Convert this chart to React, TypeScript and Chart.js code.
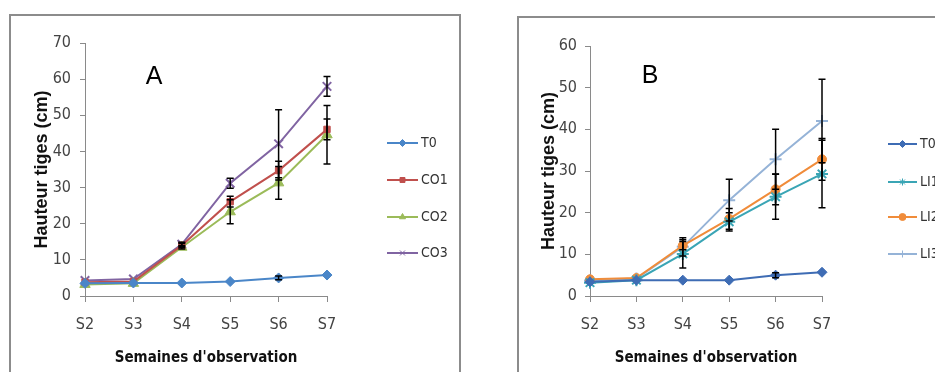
import React, { useEffect, useRef } from 'react';
import { Chart, registerables } from 'chart.js';
import { drawPoint } from 'chart.js/helpers';

Chart.register(...registerables);

const weeks = ['S2', 'S3', 'S4', 'S5', 'S6', 'S7'];

// Panel A values (cm)
const aT0 = [3.5, 3.6, 3.6, 4.0, 5.0, 5.8];
const aCO1 = [3.8, 4.0, 14.0, 26.1, 34.7, 46.1];
const aCO2 = [3.2, 3.5, 13.5, 23.3, 31.3, 44.6];
const aCO3 = [4.3, 4.7, 14.3, 31.2, 42.1, 58.0];
const aT0Err = [0, 0, 0, 0, 0.5, 0];
const aCO1Err = [0, 0, 0.6, 1.5, 2.6, 2.9];
const aCO2Err = [0, 0, 0.5, 3.3, 4.5, 8.1];
const aCO3Err = [0, 0, 0.6, 1.4, 9.4, 2.7];

// Panel B values (cm)
const bT0 = [3.4, 3.8, 3.8, 3.8, 5.0, 5.7];
const bLI1 = [3.2, 3.8, 10.1, 17.8, 23.8, 29.3];
const bLI2 = [4.0, 4.3, 12.1, 18.5, 25.6, 32.8];
const bLI3 = [3.7, 4.2, 11.8, 23.0, 32.8, 42.0];
const bT0Err = [0, 0, 0, 0, 0.6, 0];
const bLI1Err = [0, 0, 3.4, 2.2, 5.4, 8.1];
const bLI2Err = [0, 0, 1.0, 2.5, 3.7, 5.0];
const bLI3Err = [0, 0, 2.2, 5.0, 7.2, 10.0];

const NARROW = '"Liberation Sans Narrow", "DejaVu Sans Condensed", "Liberation Sans", sans-serif';
const SANS = '"Liberation Sans", Arial, sans-serif';

const errorBarPlugin = {
  id: 'errorBars',
  afterDatasetsDraw(chart: any) {
    const ctx = chart.ctx;
    const y = chart.scales.y;
    chart.data.datasets.forEach((ds: any, i: number) => {
      const errs = ds.errors;
      if (!errs) return;
      const meta = chart.getDatasetMeta(i);
      ctx.save();
      ctx.strokeStyle = '#000';
      ctx.lineWidth = 1.5;
      meta.data.forEach((pt: any, j: number) => {
        const v = ds.data[j];
        const e = errs[j];
        if (!e) return;
        const top = y.getPixelForValue(v + e);
        const bot = y.getPixelForValue(v - e);
        const x = pt.x;
        ctx.beginPath();
        ctx.moveTo(x, top);
        ctx.lineTo(x, bot);
        ctx.moveTo(x - 3.5, top);
        ctx.lineTo(x + 3.5, top);
        ctx.moveTo(x - 3.5, bot);
        ctx.lineTo(x + 3.5, bot);
        ctx.stroke();
      });
      ctx.restore();
    });
  },
};

const decorPlugin = {
  id: 'decor',
  afterDraw(chart: any, _args: any, opts: any) {
    const ctx = chart.ctx;
    ctx.save();
    ctx.fillStyle = '#000';
    ctx.font = `25px ${SANS}`;
    ctx.textAlign = 'center';
    ctx.textBaseline = 'middle';
    ctx.fillText(opts.letter, opts.letterX, opts.letterY);
    chart.data.datasets.forEach((ds: any, i: number) => {
      const yy = opts.legendYs[i];
      ctx.strokeStyle = ds.borderColor;
      ctx.lineWidth = 2;
      ctx.beginPath();
      ctx.moveTo(opts.legendX0, yy);
      ctx.lineTo(opts.legendX1, yy);
      ctx.stroke();
      ctx.fillStyle = ds.borderColor;
      ctx.strokeStyle = ds.borderColor;
      ctx.lineWidth = 1;
      drawPoint(ctx, {
        pointStyle: ds.pointStyle,
        rotation: 0,
        radius: 3.5,
        borderWidth: 1,
      } as any, (opts.legendX0 + opts.legendX1) / 2, yy);
      ctx.fillStyle = '#333';
      ctx.font = `14px ${NARROW}`;
      ctx.textAlign = 'left';
      ctx.textBaseline = 'middle';
      ctx.fillText(ds.label, opts.legendTextX, yy);
    });
    ctx.restore();
  },
};

type Series = { label: string; data: number[]; errors: number[]; color: string; style: string; radius: number };

type PanelProps = {
  left: number; top: number; width: number; height: number;
  series: Series[]; yMax: number;
  padTop: number; padRight: number;
  yAxisWidth: number; yTitlePad: number; yTickPad: number;
  letter: string; letterX: number; letterY: number;
  legendX0: number; legendX1: number; legendTextX: number; legendYs: number[];
};

function Panel(p: PanelProps) {
  const ref = useRef<HTMLCanvasElement | null>(null);
  useEffect(() => {
    if (!ref.current) return;
    const chart = new Chart(ref.current, {
      type: 'line',
      data: {
        labels: weeks,
        datasets: p.series.map((s) => ({
          label: s.label,
          data: s.data,
          errors: s.errors,
          borderColor: s.color,
          backgroundColor: s.color,
          pointBackgroundColor: s.color,
          pointBorderColor: s.color,
          pointStyle: s.style,
          pointRadius: s.radius,
          pointBorderWidth: s.style === 'crossRot' || s.style === 'star' || s.style === 'cross' ? 2 : 1,
          borderWidth: 2,
          tension: 0,
          fill: false,
        })) as any,
      },
      options: {
        animation: false,
        responsive: false,
        maintainAspectRatio: false,
        layout: { padding: { left: 0, top: p.padTop, right: p.padRight, bottom: 0 } },
        plugins: {
          legend: { display: false },
          tooltip: { enabled: false },
          decor: {
            letter: p.letter, letterX: p.letterX, letterY: p.letterY,
            legendX0: p.legendX0, legendX1: p.legendX1, legendTextX: p.legendTextX, legendYs: p.legendYs,
          },
        } as any,
        scales: {
          x: {
            type: 'category',
            offset: false,
            grid: { display: true, drawOnChartArea: false, drawTicks: true, tickLength: 6, color: '#8a8a8a', lineWidth: 1 },
            border: { display: true, color: '#8a8a8a', width: 1 },
            ticks: { font: { family: NARROW, size: 16 }, color: '#444', padding: 13, maxRotation: 0, autoSkip: false },
            title: {
              display: true, text: "Semaines d'observation", color: '#111',
              font: { family: NARROW, size: 15, weight: 'bold' },
              padding: { top: 0, bottom: 5 },
            },
            afterFit: (s: any) => { s.height = 76; },
          },
          y: {
            min: 0,
            max: p.yMax,
            grid: { display: true, drawOnChartArea: false, drawTicks: true, tickLength: 5, color: '#8a8a8a', lineWidth: 1 },
            border: { display: true, color: '#8a8a8a', width: 1 },
            ticks: { stepSize: 10, font: { family: NARROW, size: 16 }, color: '#444', padding: p.yTickPad },
            title: {
              display: true, text: 'Hauteur tiges (cm)', color: '#111',
              font: { family: SANS, size: 18, weight: 'bold' },
              padding: { top: p.yTitlePad, bottom: 0 },
            },
            afterFit: (s: any) => { s.width = p.yAxisWidth; },
          },
        },
      } as any,
      plugins: [errorBarPlugin, decorPlugin],
    });
    return () => chart.destroy();
  }, []);
  return (
    <div
      style={{
        position: 'absolute', left: p.left, top: p.top,
        width: p.width, height: p.height + 40,
        border: '2px solid #8c8c8c', background: '#fff',
      }}
    >
      <canvas ref={ref} width={p.width} height={p.height} style={{ display: 'block' }} />
    </div>
  );
}

export default function App() {
  const seriesA: Series[] = [
    { label: 'T0', data: aT0, errors: aT0Err, color: '#4a86c8', style: 'rectRot', radius: 5 },
    { label: 'CO1', data: aCO1, errors: aCO1Err, color: '#c0504d', style: 'rect', radius: 4.5 },
    { label: 'CO2', data: aCO2, errors: aCO2Err, color: '#9bbb59', style: 'triangle', radius: 6 },
    { label: 'CO3', data: aCO3, errors: aCO3Err, color: '#8064a2', style: 'crossRot', radius: 6 },
  ];
  const seriesB: Series[] = [
    { label: 'T0', data: bT0, errors: bT0Err, color: '#3e6cb4', style: 'rectRot', radius: 5 },
    { label: 'LI1', data: bLI1, errors: bLI1Err, color: '#3aa5b5', style: 'star', radius: 6 },
    { label: 'LI2', data: bLI2, errors: bLI2Err, color: '#f08c3a', style: 'circle', radius: 4.5 },
    { label: 'LI3', data: bLI3, errors: bLI3Err, color: '#95b3d7', style: 'cross', radius: 6 },
  ];
  return (
    <div style={{ position: 'fixed', left: 0, top: 0, width: 935, height: 372, overflow: 'hidden', background: '#fff' }}>
      <Panel
        left={9} top={14} width={448} height={356}
        series={seriesA} yMax={70}
        padTop={27} padRight={132}
        yAxisWidth={74} yTitlePad={20} yTickPad={9}
        letter="A" letterX={143} letterY={61}
        legendX0={376} legendX1={407} legendTextX={410} legendYs={[127, 164, 201, 237]}
      />
      <Panel
        left={517} top={16} width={420} height={354}
        series={seriesB} yMax={60}
        padTop={28} padRight={117}
        yAxisWidth={71} yTitlePad={19} yTickPad={8}
        letter="B" letterX={131} letterY={58}
        legendX0={369} legendX1={398} legendTextX={401} legendYs={[126, 164, 199, 236]}
      />
    </div>
  );
}
